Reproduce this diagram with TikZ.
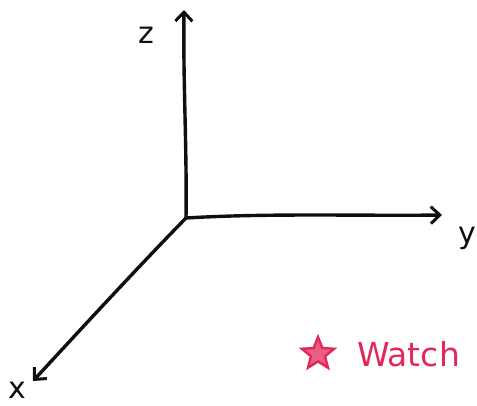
\documentclass[tikz,border=0pt]{standalone}
\usepackage{fontspec}
\setsansfont{DejaVu Sans}
\usetikzlibrary{positioning, calc, shapes.geometric, arrows.meta}
\definecolor{axis_black}{RGB}{15, 15, 15}
\definecolor{watch_pink}{RGB}{226, 40, 90}

\begin{document}
\begin{tikzpicture}[
    x=1pt, y=-1pt,
    >={Straight Barb[length=9pt, width=17pt, line width=3pt]},
    font=\sffamily,
    % Axis line style
    axis/.style={
        ->,
        draw=axis_black,
        line width=3.4pt,
        line cap=round,
        line join=round
    },
    % Axis letter style
    axis_label/.style={
        text=axis_black,
        inner sep=0pt,
        font=\sffamily\fontsize{30}{30}\selectfont
    },
    % Pink note style
    note/.style={
        text=watch_pink,
        inner sep=0pt,
        font=\sffamily\fontsize{33}{33}\selectfont
    }
]

    % ==========================================
    % 1. FRAME
    % ==========================================

    \useasboundingbox (0,0) rectangle (477,405);
    \clip (0,0) rectangle (477,405);

    % ==========================================
    % 2. AXES
    % ==========================================

    \coordinate (origin) at (186,218);
    \coordinate (z_tip) at (184,10);
    \coordinate (y_tip) at (442,215);
    \coordinate (x_tip) at (33,381);

    \draw [axis] (origin) .. controls (187,150) and (183,80) .. (z_tip);
    \draw [axis] (origin) .. controls (270,213) and (360,216) .. (y_tip);
    \draw [axis] (origin) .. controls (140,265) and (80,330) .. (x_tip);

    % Axis letters
    \node (z_label) [axis_label] at (146,35) {z};
    \node (y_label) [axis_label] at (467,238) {y};
    \node (x_label) [axis_label] at (17,390) {x};

    % ==========================================
    % 3. NOTE
    % ==========================================

    \node (star) [shape=star, star points=5, star point ratio=2.3,
        draw=watch_pink, fill=watch_pink!75, line width=2.4pt,
        minimum size=34pt, inner sep=0pt] at (318,354) {};
    \node (watch) [note, anchor=west] at (357,354) {Watch};

\end{tikzpicture}
\end{document}
